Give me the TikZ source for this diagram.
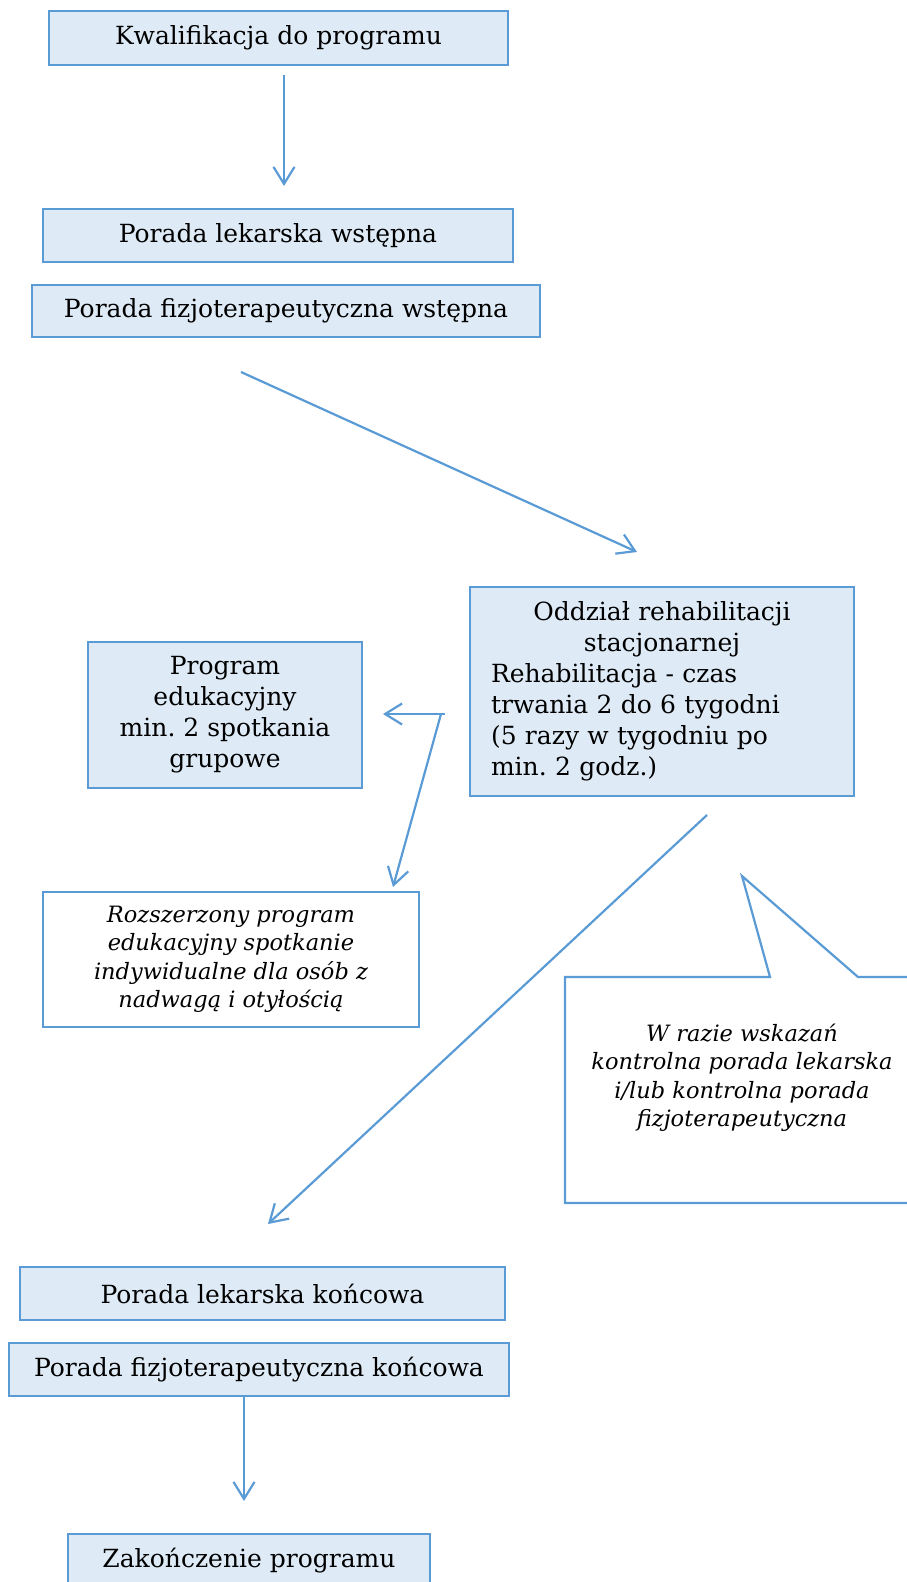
\documentclass[tikz,border=0pt]{standalone}
\usepackage{fontspec}
\setmainfont{DejaVu Serif}
\usetikzlibrary{arrows.meta}
\definecolor{bordblue}{HTML}{5B9BD5}
\definecolor{fillblue}{HTML}{DEEBF7}
\frenchspacing
\begin{document}
\begin{tikzpicture}[x=1pt,y=-1pt,
  box/.style={draw=bordblue, fill=fillblue, line width=2.2pt, inner sep=0pt,
    font=\fontsize{25}{31}\selectfont, align=center},
  wbox/.style={box, fill=white, font=\fontsize{22.5}{28.5}\selectfont\itshape},
  arr/.style={draw=bordblue, line width=2.2pt, -{Straight Barb[length=17pt,width=21pt]}}]
\useasboundingbox (0,0) rectangle (907,1582);
\clip (0,0) rectangle (907,1582);
% boxes
\node[box, minimum width=459pt, minimum height=54pt] (k1) at (278.5,38) {Kwalifikacja do programu};
\node[box, minimum width=470pt, minimum height=53pt] (k2) at (278,235.5) {Porada lekarska wstępna};
\node[box, minimum width=508pt, minimum height=52pt] (k3) at (286,311) {Porada fizjoterapeutyczna wstępna};
\node[box, minimum width=384pt, minimum height=209pt] (oddz) at (662,691.5) {};
\node[font=\fontsize{25}{31}\selectfont, text width=342pt, align=left, inner sep=0pt] (oddzt) at (oddz.center)
  {\makebox[342pt]{Oddział rehabilitacji}\\ \makebox[342pt]{stacjonarnej}\\ Rehabilitacja - czas\\ trwania 2 do 6 tygodni\\ (5 razy w tygodniu po\\ min. 2 godz.)};
\node[box, minimum width=274pt, minimum height=146pt] (edu) at (225,715) {Program\\ edukacyjny\\ min. 2 spotkania\\ grupowe};
\node[wbox, minimum width=376pt, minimum height=135pt] (roz) at (231,959.5) {Rozszerzony program\\ edukacyjny spotkanie\\ indywidualne dla osób z\\ nadwagą i otyłością};
% callout
\coordinate (cTL) at (565,977);
\coordinate (cP1) at (770,977);
\coordinate (cTip) at (742,876);
\coordinate (cP2) at (858,977);
\coordinate (cTR) at (925,977);
\coordinate (cBR) at (925,1203);
\coordinate (cBL) at (565,1203);
\draw[draw=bordblue, fill=white, line width=2.2pt] (cTL) -- (cP1) -- (cTip) -- (cP2) -- (cTR) -- (cBR) -- (cBL) -- cycle;
\node[font=\fontsize{22.5}{28.5}\selectfont\itshape, align=center, inner sep=0pt] (cal) at (742,1078)
  {W razie wskazań\\ kontrolna porada lekarska\\ i/lub kontrolna porada\\ fizjoterapeutyczna};
\node[box, minimum width=485pt, minimum height=53pt] (kon1) at (262.5,1293.5) {Porada lekarska końcowa};
\node[box, minimum width=500pt, minimum height=53pt] (kon2) at (259,1369.5) {Porada fizjoterapeutyczna końcowa};
\node[box, minimum width=362pt, minimum height=53pt] (zak) at (249,1560.5) {Zakończenie programu};
% arrow end points
\coordinate (a1s) at (284,75);   \coordinate (a1e) at (284,186);
\coordinate (a2s) at (241,372);  \coordinate (a2e) at (637,552);
\coordinate (a3s) at (445,714);  \coordinate (a3e) at (383,714);
\coordinate (a4s) at (441,714);  \coordinate (a4e) at (393,887);
\coordinate (a5s) at (707,815);  \coordinate (a5e) at (268,1224);
\coordinate (a6s) at (244,1396); \coordinate (a6e) at (244,1501);
\draw[arr] (a1s) -- (a1e);
\draw[arr] (a2s) -- (a2e);
\draw[arr] (a3s) -- (a3e);
\draw[arr] (a4s) -- (a4e);
\draw[arr] (a5s) -- (a5e);
\draw[arr] (a6s) -- (a6e);
\end{tikzpicture}
\end{document}
